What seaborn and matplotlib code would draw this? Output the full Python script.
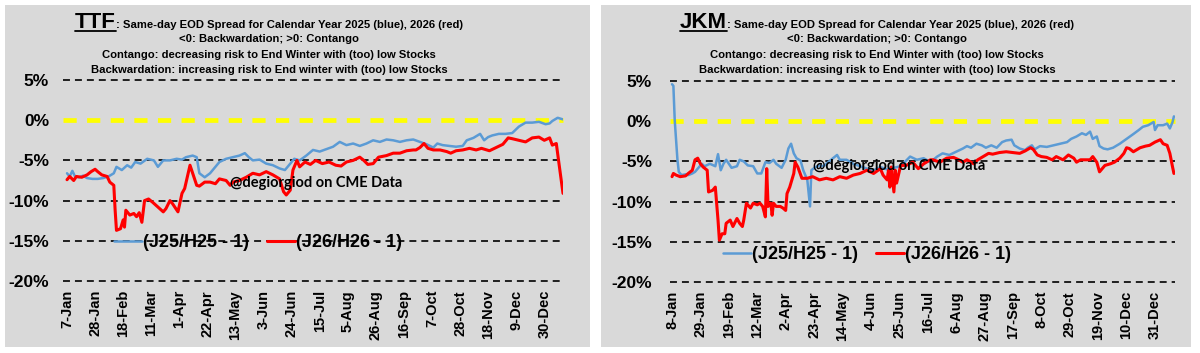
import numpy as np
import pandas as pd
import matplotlib
matplotlib.use('Agg')
import matplotlib.pyplot as plt
import matplotlib.dates as mdates
import seaborn as sns
from matplotlib.patches import Rectangle
from matplotlib.lines import Line2D

# first trading day shown on each chart; points are (days since start, spread %)
ttf_start = '2025-01-07'
jkm_start = '2025-01-08'

ttf_blue = [(0, -6.6), (2, -7.0), (4, -6.3), (6, -7.0), (9, -7.1), (12, -6.9), (15, -7.2), (19, -7.3),
            (23, -7.3), (27, -7.2), (31, -7.0), (35, -6.6), (37, -5.8), (41, -6.2), (45, -5.6), (48, -5.9),
            (51, -5.2), (55, -5.4), (60, -4.8), (65, -5.0), (68, -5.8), (72, -5.0), (77, -5.0), (82, -4.8),
            (86, -4.9), (89, -4.6), (94, -4.4), (97, -4.6), (99, -6.6), (103, -7.1), (107, -6.6), (111, -5.8),
            (114, -5.2), (119, -4.8), (124, -4.6), (129, -4.4), (133, -4.1), (136, -4.6), (139, -5.0),
            (144, -4.9), (149, -5.4), (154, -5.6), (159, -6.0), (163, -6.2), (167, -5.4), (170, -4.8),
            (174, -5.0), (179, -4.4), (184, -3.7), (189, -3.9), (194, -3.6), (199, -3.3), (204, -2.7),
            (209, -3.1), (214, -2.9), (219, -3.2), (224, -2.9), (229, -2.5), (234, -2.7), (239, -2.4),
            (244, -2.5), (249, -2.7), (254, -2.5), (259, -2.4), (264, -2.7), (269, -3.0), (274, -3.4),
            (277, -2.9), (281, -3.1), (286, -3.2), (291, -3.3), (296, -3.2), (299, -2.5), (304, -2.2),
            (309, -1.7), (312, -2.5), (315, -2.1), (318, -1.9), (323, -1.7), (328, -1.7), (333, -1.6),
            (338, -0.8), (343, -0.3), (348, -0.3), (353, -0.2), (358, -0.5), (361, -0.4), (363, -0.1),
            (367, 0.3), (371, 0.1)]

ttf_red = [(0, -7.4), (2, -7.0), (5, -7.5), (7, -7.0), (11, -7.1), (15, -6.8), (18, -6.4), (21, -6.1),
           (23, -6.4), (26, -6.8), (30, -7.0), (32, -7.7), (35, -8.1), (36, -11.2), (37, -13.7), (40, -13.5),
           (42, -12.4), (43, -13.3), (44, -11.2), (47, -11.8), (50, -11.6), (52, -12.0), (54, -11.5),
           (56, -12.7), (58, -10.0), (61, -9.8), (64, -10.2), (68, -10.8), (72, -11.4), (74, -11.0),
           (77, -10.0), (79, -10.4), (83, -11.4), (86, -9.1), (88, -8.5), (92, -5.6), (94, -6.6), (97, -8.1),
           (99, -8.2), (103, -7.7), (107, -7.7), (111, -7.9), (114, -7.3), (119, -7.5), (122, -8.1),
           (124, -7.7), (129, -7.5), (134, -7.1), (139, -6.6), (144, -6.8), (149, -6.4), (154, -6.8),
           (159, -7.3), (162, -8.9), (164, -9.3), (167, -8.7), (169, -6.2), (172, -5.0), (174, -5.8),
           (178, -5.2), (182, -5.5), (186, -5.0), (191, -5.4), (196, -5.2), (201, -5.6), (205, -5.7),
           (209, -5.2), (214, -5.0), (219, -4.6), (222, -5.0), (225, -5.5), (229, -5.4), (233, -4.6),
           (239, -4.4), (244, -4.1), (249, -4.1), (254, -3.8), (259, -3.7), (261, -3.7), (264, -3.4),
           (267, -2.9), (270, -3.5), (274, -3.7), (279, -3.7), (284, -3.9), (287, -4.1), (291, -3.8),
           (296, -3.7), (301, -3.5), (306, -3.7), (310, -3.5), (316, -3.8), (321, -3.4), (326, -3.0),
           (330, -2.2), (333, -2.3), (338, -2.5), (343, -2.7), (348, -2.2), (353, -2.1), (357, -2.5),
           (361, -2.2), (363, -3.1), (366, -2.9), (368, -5.4), (371, -9.1)]

jkm_blue = [(0, 4.6), (1, 4.4), (2, 0.1), (4, -4.8), (5, -6.3), (7, -6.7), (10, -6.6), (12, -6.7),
            (15, -6.5), (17, -6.3), (20, -5.7), (22, -5.3), (24, -5.6), (28, -5.3), (32, -5.6), (34, -4.1),
            (36, -6.1), (38, -5.3), (40, -4.8), (44, -5.8), (48, -5.6), (50, -4.8), (53, -5.0), (56, -5.5),
            (60, -5.6), (63, -6.5), (66, -6.5), (69, -5.1), (72, -5.2), (75, -4.8), (77, -5.3), (81, -5.8),
            (84, -4.8), (86, -3.4), (88, -2.8), (90, -4.0), (92, -4.6), (95, -4.9), (97, -6.1), (100, -7.3),
            (102, -10.6), (103, -6.1), (106, -5.7), (109, -5.5), (112, -5.6), (114, -5.3), (119, -4.6),
            (122, -4.2), (124, -4.8), (129, -4.8), (134, -5.3), (139, -5.6), (144, -5.9), (149, -6.1),
            (154, -5.7), (159, -6.0), (164, -5.8), (169, -5.6), (176, -4.4), (181, -4.8), (186, -4.6),
            (191, -5.1), (196, -4.4), (200, -4.0), (205, -4.2), (210, -3.8), (215, -3.4), (218, -3.1),
            (221, -3.3), (225, -2.8), (229, -3.0), (232, -3.3), (236, -3.0), (240, -3.3), (244, -2.6),
            (247, -2.4), (251, -2.3), (253, -3.0), (257, -3.4), (261, -3.6), (263, -3.3), (266, -3.0),
            (268, -3.5), (272, -3.1), (277, -3.2), (282, -3.0), (287, -2.8), (292, -2.6), (295, -2.2),
            (299, -1.9), (303, -1.5), (306, -1.7), (309, -1.3), (311, -2.2), (314, -1.9), (316, -3.1),
            (319, -3.4), (322, -3.5), (326, -3.3), (331, -2.8), (336, -2.2), (341, -1.6), (345, -1.1),
            (348, -0.7), (352, -0.5), (356, -0.1), (357, -1.1), (359, -0.5), (363, -0.5), (366, -0.3),
            (368, -0.9), (370, -0.1), (371, 0.6)]

jkm_red = [(0, -6.9), (1, -6.5), (3, -6.7), (6, -6.9), (10, -6.8), (12, -6.5), (15, -6.1), (17, -4.8),
           (19, -4.6), (21, -5.3), (23, -5.7), (26, -6.1), (27, -8.8), (30, -8.6), (32, -8.2), (34, -12.3),
           (35, -14.8), (37, -14.0), (39, -14.0), (40, -12.7), (43, -12.3), (45, -13.1), (48, -12.1),
           (50, -12.7), (52, -13.1), (53, -12.3), (55, -10.2), (58, -10.8), (60, -10.2), (63, -10.4),
           (65, -10.2), (67, -10.6), (69, -11.9), (70, -5.9), (71, -10.6), (73, -10.2), (74, -11.7),
           (75, -10.2), (77, -10.6), (80, -10.6), (82, -10.8), (84, -11.1), (85, -9.0), (87, -8.2),
           (90, -6.5), (91, -5.1), (93, -5.7), (96, -7.1), (100, -7.1), (104, -6.9), (109, -7.3),
           (114, -7.1), (119, -7.3), (124, -6.9), (129, -7.1), (134, -6.7), (139, -6.5), (144, -6.1),
           (149, -6.5), (154, -5.9), (156, -6.7), (159, -7.3), (160, -6.1), (161, -8.2), (162, -5.7),
           (164, -8.8), (165, -6.1), (166, -7.7), (169, -5.5), (173, -5.5), (178, -5.1), (182, -5.9),
           (186, -5.3), (191, -4.8), (193, -4.8), (198, -5.1), (203, -4.6), (208, -4.5), (212, -4.8),
           (215, -5.1), (218, -4.8), (223, -5.3), (226, -4.8), (230, -4.4), (234, -4.0), (237, -4.1),
           (242, -3.9), (247, -3.8), (252, -3.9), (257, -4.0), (261, -3.7), (265, -3.3), (267, -3.5),
           (270, -4.2), (273, -4.4), (277, -4.5), (281, -4.8), (284, -4.4), (289, -4.8), (293, -4.2),
           (297, -4.6), (299, -5.1), (302, -4.8), (305, -4.8), (309, -4.8), (311, -4.4), (314, -5.1),
           (316, -6.3), (320, -5.5), (324, -5.3), (327, -5.1), (331, -4.6), (334, -4.0), (336, -3.3),
           (338, -3.4), (341, -3.8), (343, -3.6), (346, -3.3), (350, -3.1), (353, -3.0), (357, -2.6),
           (361, -2.3), (363, -2.8), (366, -3.0), (368, -4.0), (370, -5.7), (371, -6.5)]

y_ticks = [5, 0, -5, -10, -15, -20]
blue_label = '(J25/H25 - 1)'
red_label = '(J26/H26 - 1)'
header_rest = ': Same-day EOD Spread for Calendar Year 2025 (blue), 2026 (red)'
header_lines = ['<0: Backwardation; >0: Contango',
                'Contango: decreasing risk to End Winter with (too) low Stocks',
                'Backwardation: increasing risk to End winter with (too) low Stocks']
watermark = '@degiorgiod on CME Data'

BLUE = '#5B9BD5'
RED = '#FF0000'
GREY = '#D9D9D9'

sns.set_style('white')
plt.rcParams['font.family'] = ['Liberation Sans', 'DejaVu Sans']
plt.rcParams['lines.scale_dashes'] = False
plt.rcParams['text.color'] = 'black'
plt.rcParams['xtick.color'] = 'black'
plt.rcParams['ytick.color'] = 'black'

W, H = 1200, 353
fig = plt.figure(figsize=(12, 3.53), dpi=100)
fig.patch.set_facecolor('white')

# grey chart areas, kept behind the axes
for x0, x1 in [(5, 590), (601, 1191)]:
    fig.patches.append(Rectangle((x0 / W, 1 - 347 / H), (x1 - x0) / W, 342 / H,
                                 transform=fig.transFigure, facecolor=GREY, edgecolor='none', zorder=-5))


def to_frame(points, start):
    df = pd.DataFrame(points, columns=['day', 'spread'])
    df['date'] = pd.Timestamp(start) + pd.to_timedelta(df['day'], unit='D')
    return df


def draw_panel(rect, start, blue_pts, red_pts, xlim, ypad, leg_xy, mark_xy):
    ax = fig.add_axes(rect)
    ax.set_facecolor('none')
    t0 = pd.Timestamp(start)
    b = to_frame(blue_pts, start)
    r = to_frame(red_pts, start)
    sns.lineplot(data=b, x='date', y='spread', ax=ax, color=BLUE, linewidth=1.8, label=blue_label, zorder=4)
    sns.lineplot(data=r, x='date', y='spread', ax=ax, color=RED, linewidth=2.2, label=red_label, zorder=5)

    for v in y_ticks:
        if v == 0:
            ax.axhline(v, color='#FFFF00', linewidth=3.4, linestyle=(0, (9.5, 7.5)), zorder=2, clip_on=False)
        else:
            ax.axhline(v, color='black', linewidth=1.2, linestyle=(0, (5, 3.6)), zorder=2, clip_on=False)

    ax.set_ylim(-20, 5)
    ax.set_xlim(mdates.date2num(t0 + pd.Timedelta(days=xlim[0])),
                mdates.date2num(t0 + pd.Timedelta(days=xlim[1])))
    ticks = [t0 + pd.Timedelta(days=21 * k) for k in range(18)]
    ax.set_xticks([mdates.date2num(t) for t in ticks])
    ax.set_xticklabels([f"{t.day}-{t.strftime('%b')}" for t in ticks], rotation=90,
                       fontsize=10.5, fontweight='bold')
    ax.set_yticks(y_ticks)
    ax.set_yticklabels([f'{v}%' for v in y_ticks], fontsize=12.5, fontweight='bold')
    ax.tick_params(axis='x', length=0, pad=6.5)
    ax.tick_params(axis='y', length=0, pad=ypad)
    ax.set_xlabel('')
    ax.set_ylabel('')
    for s in ax.spines.values():
        s.set_visible(False)

    ax.legend(loc='center', bbox_to_anchor=leg_xy, ncol=2, frameon=False,
              prop={'weight': 'bold', 'size': 13}, handlelength=1.55, handletextpad=0.05,
              columnspacing=1.0)
    ax.text(mark_xy[0], mark_xy[1], watermark, transform=ax.transAxes, ha='left', va='center',
            fontsize=10.5, fontweight='bold', family=['Lato', 'Liberation Sans'], zorder=6)
    return ax


def header(cx, name):
    rnd = fig.canvas.get_renderer()
    big = fig.text(0, 0, name, fontsize=16, fontweight='bold',
                   family=['Liberation Sans Narrow', 'Liberation Sans'], va='baseline')
    rest = fig.text(0, 0, header_rest, fontsize=8.1, fontweight='bold', va='baseline')
    w1 = big.get_window_extent(rnd).width
    w2 = rest.get_window_extent(rnd).width
    x0 = cx - (w1 + w2) / 2
    big.set_position((x0 / W, 1 - 27.5 / H))
    rest.set_position(((x0 + w1) / W, 1 - 27.5 / H))
    fig.add_artist(Line2D([x0 / W, (x0 + w1) / W], [1 - 31 / H] * 2, color='black', linewidth=1.3))
    for text, yb in zip(header_lines, [42.5, 57.5, 73]):
        fig.text(cx / W, 1 - yb / H, text, ha='center', va='baseline', fontsize=8.1, fontweight='bold')


draw_panel([63 / W, 1 - 281 / H, 500 / W, 201 / H], ttf_start, ttf_blue, ttf_red,
           (-3, 371), 10, (0.39, 0.19), (0.334, 0.488))
draw_panel([670 / W, 1 - 282 / H, 505 / W, 201 / H], jkm_start, jkm_blue, jkm_red,
           (-1.5, 371.8), 13, (0.39, 0.135), (0.283, 0.577))

header(269, 'TTF')
header(877, 'JKM')

plt.savefig('out.png', dpi=100, facecolor='white')
